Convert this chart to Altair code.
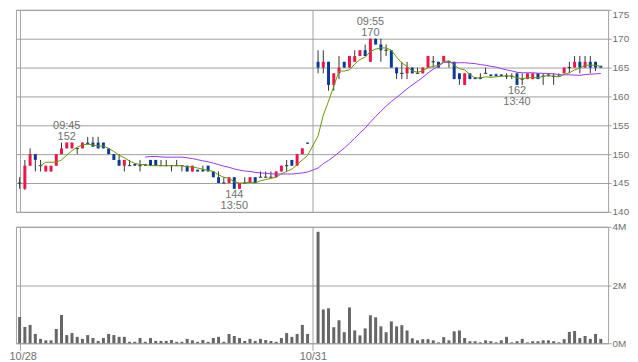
import altair as alt
import pandas as pd

# ---- data (5-minute candles, two sessions) ----
slots = list(range(0, 56)) + list(range(57, 112))

opens = [145,144,148,150,148,147,147,148,150,151,151,151,151,152,152,152,152,151,150,149,
         148,148,148.3,148,148.3,149,149,148,148,148,148,148,148,147,147.3,147.3,148,147,146,145,
         145,146,144,145,145,146,146,146,146,146,147,148,149,148,150,152,
         166,165,166,162,164,166,165,166,167,168,166,170,169,168,168,165,164,164,165,164,
         164,165,166,166,166,166,166,164,162,164,163.3,163.3,164,163.8,163.8,163.8,163.5,163.5,164,163,
         163,163,164,163.5,163.8,163.5,163.5,164,165,165,166,165,166,166,165.3]
highs = [146,149,151,150,149,148,148,150,152,152,152,151,152,153,153,153,152,151,150,150,
         149,149,148.3,149,148.3,149,149,149,149,148,149,148,148,148,147.3,148,148,147,147,146,
         146,146,145,146,146,146,147,147,147,147,148,149,149,150,151,152,
         168,168,166,164,167,166,167,168,168,169,170,170,170,169,168,165,166,166,165,165,
         165,167,167,166,167,166,166,164,164,164,163.3,164,165,163.8,164,163.8,164,164,164,164,
         164,164,164,164,164,164,164,165,166,167,167,167,167,166,165.3]
lows = [144,143.8,148,147,147,147,147,148,150,151,151,150,151,151.7,151.3,151,151,150,149,148,
        147,148,148,147,148,148,148,148,148,147,148,147,147,147,147,147,147,146,145,145,
        145,144,144,145,145,145,146,146,146,146,147,147,148,148,150,151.8,
        164,164,161,161,163,165,165,166,167,167,166,169,166,167,165,163,163,163,164,164,
        164,165,165,165,166,165,163,162,162,163,163,163,164,163.5,163.5,163.5,163,163,162,162,
        163,163,163,162,163.5,162,163.5,164,164,165,164,165,164,164.4,165]
closes = [145,148,150,149,148,148,148,150,151,152,152,151,152,151.7,151.3,151,151,150,149,148,
          149,148,148,148,148,148,148,148,148,148,148,148,147,148,147,147,147,146,145,145,
          146,144,145,145,146,145,146,146,146,147,148,148,148,150,151,151.8,
          165,166,162,164,165,165,167,167,168,167,170,169,168,168,165,164,164,165,164,164,
          165,167,166,165,167,166,163,163,164,163,163,163,164,163.5,163.5,163.5,163.5,163.5,162,163,
          164,164,163,163.5,163.5,163.5,163.5,165,165,166,165,166,165,165,165]
volumes_m = [0.90,0.56,0.63,0.32,0.15,0.10,0.10,0.49,0.97,0.28,0.35,0.22,0.15,0.28,0.18,0.08,0.18,0.32,0.28,0.22,
             0.22,0.05,0.05,0.18,0.05,0.18,0.08,0.08,0.08,0.11,0.05,0.05,0.15,0.10,0.05,0.11,0.05,0.18,0.22,0.05,
             0.32,0.25,0.18,0.08,0.15,0.08,0.15,0.11,0.08,0.05,0.18,0.35,0.22,0.32,0.63,0.32,
             3.83,1.16,1.20,0.55,0.79,0.38,1.23,0.44,0.27,0.51,0.96,0.89,0.58,0.38,0.75,0.58,0.62,0.44,0.17,0.10,
             0.14,0.14,0.10,0.03,0.21,0.10,0.41,0.44,0.18,0.07,0.07,0.03,0.10,0.07,0.03,0.10,0.22,0.03,0.07,0.15,
             0.03,0.07,0.07,0.10,0.10,0.07,0.03,0.14,0.39,0.42,0.18,0.25,0.15,0.32,0.15]

date_slots = [0, 56]
date_labels = ["10/28", "10/31"]

note_slots = [9, 41, 67, 95]
note_prices = [152, 144, 170, 162]
note_times = ["09:45", "13:50", "09:55", "13:40"]
note_kind = ["high", "low", "high", "low"]

df = pd.DataFrame({"slot": slots, "open": opens, "high": highs, "low": lows,
                   "close": closes, "vol": volumes_m})
notes = pd.DataFrame({"slot": note_slots, "price": note_prices,
                      "ptxt": [str(p) for p in note_prices], "time": note_times, "kind": note_kind})

RED = "#f0144b"
BLUE = "#0a3a98"
GRID = "#a0a0a0"
TXT = "#707070"
FONT = "Liberation Sans"

xscale = alt.Scale(domain=[-0.7, 112.4], nice=False, zero=False, padding=0)
yscale = alt.Scale(domain=[140, 175], nice=False, zero=False, padding=0)
vscale = alt.Scale(domain=[0, 4], nice=False, padding=0)

x_axis_main = alt.Axis(values=date_slots, grid=True, gridColor=GRID, labels=False,
                       ticks=False, domain=False, title=None)
y_axis_main = alt.Axis(orient="right", values=[140, 145, 150, 155, 160, 165, 170, 175],
                       grid=True, gridColor=GRID, tickColor=GRID, tickSize=3,
                       domain=False, labelColor=TXT, labelFont=FONT, labelFontSize=10,
                       labelPadding=1, title=None,
                       labelOffset={"condition": {"test": "datum.value == 175", "value": 5}, "value": 0})

label_expr = "datum.value == 0 ? '" + date_labels[0] + "' : '" + date_labels[1] + "'"

base = alt.Chart(df)

def X(field):
    return alt.X(field, scale=xscale, axis=x_axis_main)

def Y(field):
    return alt.Y(field, scale=yscale, axis=y_axis_main)

wick = base.mark_rule(color="#333333", strokeWidth=1).encode(
    x=X("slot:Q"), y=Y("low:Q"), y2="high:Q",
)

body = base.transform_filter("datum.open != datum.close").transform_calculate(
    dir="datum.close > datum.open ? 'up' : 'down'"
).mark_bar(size=3).encode(
    x=X("slot:Q"), y=Y("open:Q"), y2="close:Q",
    color=alt.Color("dir:N", scale=alt.Scale(domain=["up", "down"], range=[RED, BLUE]), legend=None),
)

doji = base.transform_filter("datum.open == datum.close").transform_calculate(
    xa="datum.slot - 0.33", xb="datum.slot + 0.33"
).mark_rule(color="#333333", strokeWidth=1).encode(
    x=X("xa:Q"), x2="xb:Q", y=Y("close:Q"),
)

ma5 = base.transform_window(
    ma="mean(close)", n="count()", frame=[-4, 0], sort=[alt.SortField("slot")]
).transform_filter("datum.n >= 5").mark_line(color="#669900", strokeWidth=1).encode(
    x=X("slot:Q"), y=Y("ma:Q"),
)

ma25 = base.transform_window(
    ma="mean(close)", n="count()", frame=[-24, 0], sort=[alt.SortField("slot")]
).transform_filter("datum.n >= 25").mark_line(color="#9933ff", strokeWidth=1).encode(
    x=X("slot:Q"), y=Y("ma:Q"),
)

nbase = alt.Chart(notes)
def note_layer(kind, field, dy):
    return nbase.transform_filter(f"datum.kind == '{kind}'").mark_text(
        font=FONT, fontSize=11, color=TXT, dy=dy, baseline="middle"
    ).encode(x=X("slot:Q"), y=Y("price:Q"), text=f"{field}:N")

notes_layers = [note_layer("high", "ptxt", -5.5), note_layer("high", "time", -16.5),
                note_layer("low", "ptxt", 6.5), note_layer("low", "time", 17.5)]

main = alt.layer(wick, body, doji, ma25, ma5, *notes_layers).properties(width=595, height=203)

vol = alt.Chart(df).mark_bar(size=3, color="#666666").encode(
    x=alt.X("slot:Q", scale=xscale,
            axis=alt.Axis(values=date_slots, grid=True, gridColor=GRID, labelExpr=label_expr,
                          ticks=True, tickSize=7, tickColor=GRID, domain=False,
                          labelColor=TXT, labelFont=FONT, labelFontSize=11, labelPadding=0,
                          labelAlign={"condition": {"test": "datum.value == 0", "value": "left"}, "value": "center"},
                          labelOffset={"condition": {"test": "datum.value == 0", "value": -10.7}, "value": 0},
                          title=None)),
    y=alt.Y("vol:Q", scale=vscale,
            axis=alt.Axis(orient="right", values=[0, 2, 4], labelExpr="datum.value + 'M'",
                          grid=True, gridColor=GRID, tickColor=GRID, tickSize=3, domain=False,
                          labelColor=TXT, labelFont=FONT, labelFontSize=10, labelPadding=1,
                          title=None)),
).properties(width=595, height=117)

chart = alt.vconcat(main, vol, spacing=3).properties(
    padding={"left": 0, "top": 0, "right": 0, "bottom": 0},
    background="white",
).configure_view(stroke=GRID, strokeWidth=1)

chart.save("out.html", embed_options={"renderer": "svg", "actions": False})
